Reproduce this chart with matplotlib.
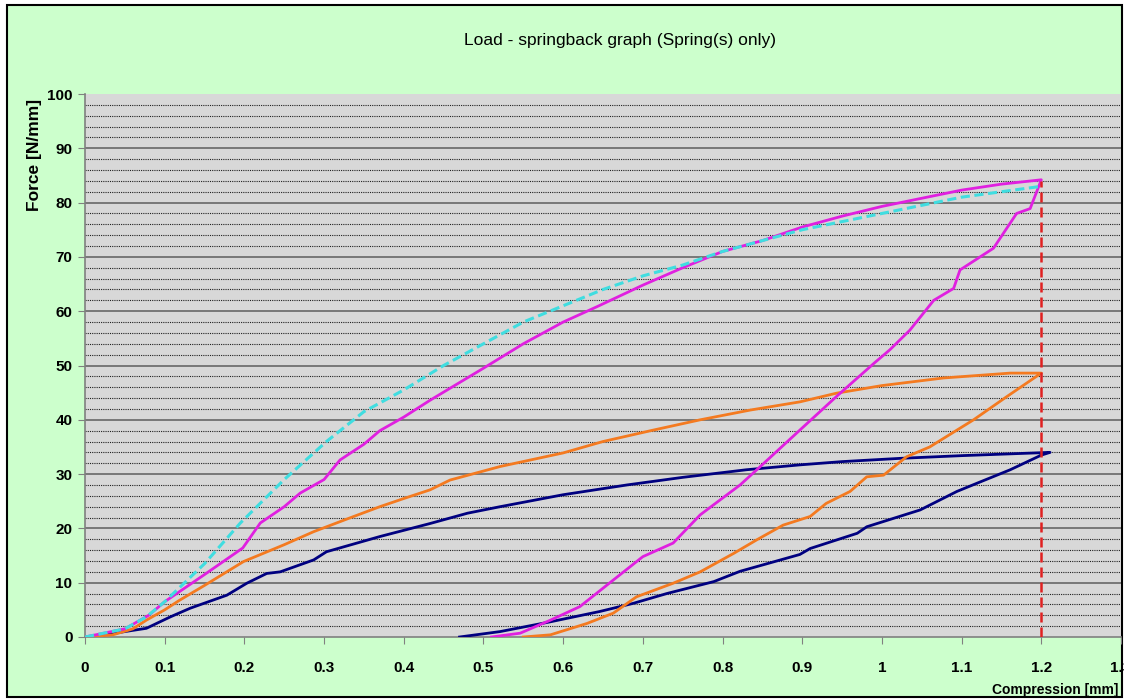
import matplotlib
matplotlib.use('Agg')
import matplotlib.pyplot as plt
from matplotlib.patches import Rectangle

# Datos (compresion en mm, fuerza en N/mm)
modelo_x = [0, 0.05, 0.077, 0.1, 0.15, 0.195, 0.25, 0.303, 0.35, 0.4, 0.45, 0.5, 0.55,
            0.6, 0.65, 0.7, 0.75, 0.8, 0.85, 0.9, 0.95, 1.0, 1.05, 1.1, 1.15, 1.2]
modelo_y = [0, 1.5, 3.7, 6.5, 13.5, 21, 29, 36, 41.5, 45.5, 50, 54, 58,
            61, 64, 66.5, 68.5, 71, 73, 75, 76.5, 78, 79.5, 81, 82, 83]

mag_x = [0, 0.05, 0.08, 0.1, 0.15, 0.198, 0.22, 0.25, 0.27, 0.3, 0.32, 0.35, 0.37, 0.4,
         0.433, 0.5, 0.55, 0.6, 0.642, 0.7, 0.75, 0.8, 0.85, 0.9, 0.95, 1.0, 1.05, 1.1,
         1.15, 1.2,
         1.186, 1.169, 1.14, 1.098, 1.09, 1.065, 1.035, 1.01, 0.99, 0.943, 0.897, 0.843,
         0.822, 0.772, 0.738, 0.70, 0.663, 0.621, 0.584, 0.546, 0.51]
mag_y = [0, 1.5, 4, 6.5, 11.5, 16.4, 21, 24, 26.5, 29, 32.6, 35.5, 38, 40.5,
         43.6, 49.5, 54, 58, 60.8, 64.8, 68, 71, 73, 75.5, 77.5, 79.3, 80.8, 82.3,
         83.4, 84.2,
         78.9, 78, 71.6, 67.6, 64.2, 62, 56.5, 52.9, 50.4, 44.3, 38.1, 30.8,
         28, 22.5, 17.3, 14.8, 10.5, 5.6, 3.1, 0.7, 0]

nar_x = [0, 0.035, 0.06, 0.077, 0.1, 0.119, 0.15, 0.199, 0.25, 0.287, 0.33, 0.37, 0.4,
         0.433, 0.458, 0.521, 0.6, 0.65, 0.713, 0.772, 0.835, 0.897, 0.943, 1.0, 1.077,
         1.161, 1.2,
         1.157, 1.115, 1.06, 1.031, 1.002, 0.981, 0.96, 0.93, 0.91, 0.876, 0.843, 0.814,
         0.772, 0.738, 0.692, 0.663, 0.63, 0.584, 0.55]
nar_y = [0, 0.4, 1.5, 3.1, 5, 6.8, 9.5, 13.9, 17, 19.4, 21.8, 24, 25.5,
         27.1, 28.9, 31.4, 33.9, 36, 38.1, 40, 41.8, 43.3, 44.9, 46.3, 47.7,
         48.6, 48.6,
         44.3, 40, 35, 33.2, 29.8, 29.5, 26.8, 24.6, 22.2, 20.6, 17.9, 15.4,
         12, 9.9, 7.4, 4.4, 2.5, 0.4, 0]

azul_x = [0, 0.03, 0.05, 0.077, 0.107, 0.132, 0.178, 0.203, 0.228, 0.245, 0.287, 0.303,
          0.37, 0.433, 0.48, 0.521, 0.6, 0.68, 0.75, 0.83, 0.897, 0.95, 1.023, 1.1, 1.211,
          1.2, 1.161, 1.119, 1.094, 1.048, 0.981, 0.969, 0.91, 0.897, 0.822, 0.789, 0.73,
          0.688, 0.646, 0.584, 0.521, 0.47]
azul_y = [0, 0.5, 1, 1.6, 3.7, 5.3, 7.7, 9.9, 11.7, 12, 14.2, 15.7,
          18.5, 20.9, 22.8, 24, 26.2, 28, 29.4, 30.8, 31.7, 32.3, 32.9, 33.4, 34,
          33.5, 30.8, 28.3, 26.8, 23.4, 20.3, 19.1, 16.3, 15.2, 12.1, 10.2, 8,
          6.2, 4.7, 2.8, 1, 0]

limite_x = 1.2
limite_y = 84

xticks = [0, 0.1, 0.2, 0.3, 0.4, 0.5, 0.6, 0.7, 0.8, 0.9, 1, 1.1, 1.2, 1.3]
xtick_labels = ['0', '0.1', '0.2', '0.3', '0.4', '0.5', '0.6', '0.7', '0.8', '0.9',
                '1', '1.1', '1.2', '1.3']

plt.rcParams['font.family'] = ['Liberation Sans', 'DejaVu Sans']

fig = plt.figure(figsize=(11.24, 7.0), dpi=100)
fig.patch.set_facecolor('white')
# fondo verde con borde negro
fondo = Rectangle((7 / 1124, 3 / 700), 1115 / 1124, 692 / 700,
                  transform=fig.transFigure, facecolor='#ccffcc',
                  edgecolor='black', linewidth=1.5, zorder=-10)
fig.patches.append(fondo)

ax = fig.add_axes([85 / 1124, 1 - 637 / 700, 1036 / 1124, 543 / 700])
ax.set_zorder(1)
ax.set_facecolor('#d8d8d8')

# lineas de cuadricula
for v in range(2, 100, 2):
    if v % 10 == 0:
        ax.axhline(v, color='#707070', linewidth=1.3, zorder=1)
    else:
        ax.axhline(v, color='#202020', linewidth=0.8, linestyle=(0, (1, 1)), zorder=1)

ax.plot(azul_x, azul_y, color='#000080', linewidth=2, zorder=3)
ax.plot(nar_x, nar_y, color='#f47a20', linewidth=2, zorder=3)
ax.plot(mag_x, mag_y, color='#e020e0', linewidth=2, zorder=3)
ax.plot(modelo_x, modelo_y, color='#40dde0', linewidth=2.2, linestyle=(0, (3, 1.5)), zorder=4)
ax.plot([limite_x, limite_x], [0, limite_y], color='#e02020', linewidth=1.8,
        linestyle=(0, (4, 2)), zorder=5)

ax.set_xlim(0, 1.3)
ax.set_ylim(0, 100)
ax.set_xticks(xticks)
ax.set_xticklabels(xtick_labels)
ax.set_yticks(range(0, 101, 10))
ax.tick_params(axis='x', length=5, color='#808080', pad=12, labelsize=11)
ax.tick_params(axis='y', length=5, color='#808080', pad=4, labelsize=11)
for lab in ax.get_xticklabels() + ax.get_yticklabels():
    lab.set_fontweight('bold')

for s in ['top', 'right']:
    ax.spines[s].set_visible(False)
ax.spines['left'].set_color('#808080')
ax.spines['bottom'].set_color('#808080')
ax.spines['left'].set_linewidth(1.2)
ax.spines['bottom'].set_linewidth(1.2)

fig.text(0.552, 1 - 40 / 700, 'Load - springback graph (Spring(s) only)',
         ha='center', va='center', fontsize=12.5)
fig.text(35 / 1124, 1 - 155 / 700, 'Force [N/mm]', rotation=90, ha='center', va='center',
         fontsize=12.5, fontweight='bold')
fig.text(1118 / 1124, 1 - 690 / 700, 'Compression [mm]', ha='right', va='center',
         fontsize=10, fontweight='bold')

fig.savefig('out.png', dpi=100)
